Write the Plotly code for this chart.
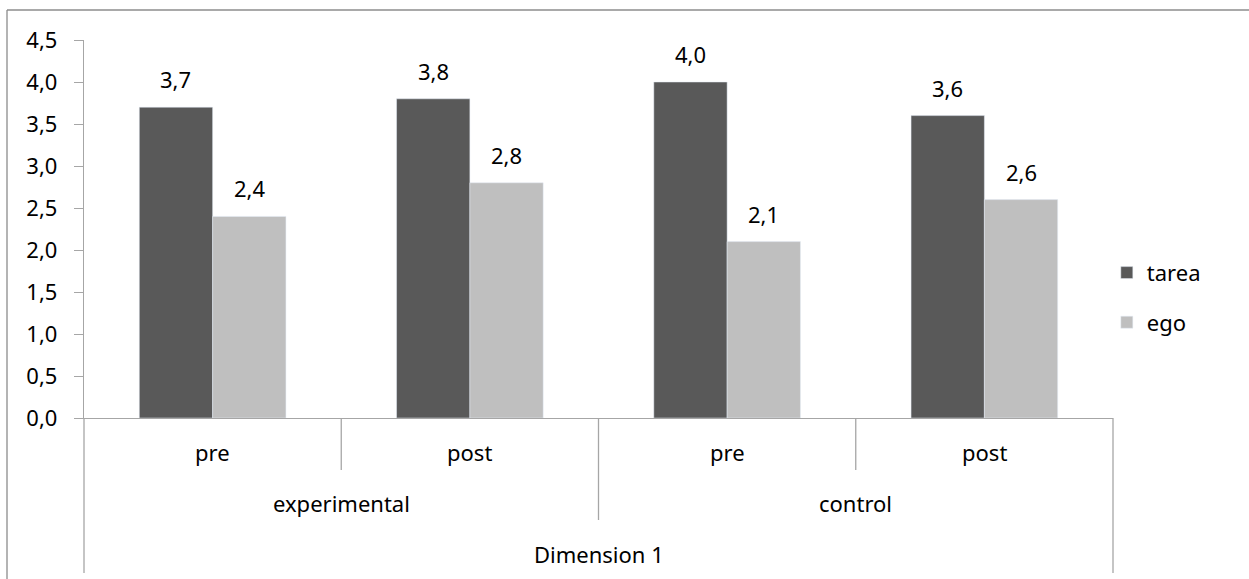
import plotly.graph_objects as go

# Category structure (three-level axis: condition / group / dimension)
conditions = ["pre", "post", "pre", "post"]
groups = ["experimental", "control"]
dimension = "Dimension 1"

tarea = [3.7, 3.8, 4.0, 3.6]
ego = [2.4, 2.8, 2.1, 2.6]

y_ticks = [0, 0.5, 1, 1.5, 2, 2.5, 3, 3.5, 4, 4.5]

FONT = "Noto Sans"
FS = 22
AXIS_GREY = "#a6a6a6"
FRAME_GREY = "#8c8c8c"
DARK = "#595959"
LIGHT = "#bfbfbf"

xpos = list(range(len(conditions)))

fig = go.Figure()
fig.add_trace(go.Bar(x=xpos, y=tarea, name="tarea", marker_color=DARK,
                     legendgroup="a"))
fig.add_trace(go.Bar(x=xpos, y=ego, name="ego", marker_color=LIGHT,
                     legendgroup="b"))

W, H = 1249, 579
ml, mr, mt, mb = 84, 136, 40, 161
plot_w = W - ml - mr
plot_h = H - mt - mb
n = len(conditions)
bargap = 0.43
bar_w = (1 - bargap) / 2  # width of one bar in category units


def ypaper(px_below):
    return -px_below / plot_h


shapes = []
ann = []
line_style = dict(color=AXIS_GREY, width=1.3)

# Category dividers below the x axis
for i in range(n + 1):
    xp = i / n
    if i == 0 or i == n:
        depth = 155
    elif i == n // 2:
        depth = 102
    else:
        depth = 52
    shapes.append(dict(type="line", xref="paper", yref="paper",
                       x0=xp, x1=xp, y0=0, y1=ypaper(depth), line=line_style))

# Outer chart frame (top and left edges)
top_p = (plot_h + mt - 10) / plot_h
left_p = (7 - ml) / plot_w
shapes.append(dict(type="line", xref="paper", yref="paper",
                   x0=left_p, x1=(W + 5 - ml) / plot_w, y0=top_p, y1=top_p,
                   line=dict(color=FRAME_GREY, width=1.3)))
shapes.append(dict(type="line", xref="paper", yref="paper",
                   x0=left_p, x1=left_p, y0=top_p, y1=ypaper(mb + 5),
                   line=dict(color=FRAME_GREY, width=1.3)))

lab_font = dict(family=FONT, size=FS, color="#000000")

# Value labels above each bar
for vals, off in ((tarea, -bar_w / 2), (ego, bar_w / 2)):
    for i, v in enumerate(vals):
        ann.append(dict(x=xpos[i] + off, y=v, xref="x", yref="y",
                        text=f"{v:.1f}".replace(".", ","), showarrow=False,
                        yanchor="bottom", yshift=11, font=lab_font))

for i, c in enumerate(conditions):
    ann.append(dict(x=xpos[i], y=ypaper(34), xref="x", yref="paper",
                    yanchor="middle", text=c, showarrow=False, font=lab_font))
per = n // len(groups)
for g, name in enumerate(groups):
    xc = (xpos[g * per] + xpos[g * per + per - 1]) / 2
    ann.append(dict(x=xc, y=ypaper(85), xref="x", yref="paper",
                    yanchor="middle", text=name, showarrow=False, font=lab_font))
ann.append(dict(x=(xpos[0] + xpos[-1]) / 2, y=ypaper(136), xref="x", yref="paper",
                yanchor="middle", text=dimension, showarrow=False, font=lab_font))

fig.update_layout(
    width=W, height=H,
    margin=dict(l=ml, r=mr, t=mt, b=mb, pad=0),
    paper_bgcolor="white", plot_bgcolor="white",
    separators=",.",
    barmode="group", bargap=bargap, bargroupgap=0,
    font=dict(family=FONT, size=FS, color="#000000"),
    xaxis=dict(range=[-0.5, n - 0.5], showticklabels=False, showgrid=False,
               zeroline=False, showline=True, linecolor=AXIS_GREY, linewidth=1.3,
               ticks=""),
    yaxis=dict(range=[0, 4.5], tickvals=y_ticks, tickformat=".1f",
               showgrid=False, zeroline=False, showline=True,
               linecolor=AXIS_GREY, linewidth=1.3, ticks="outside",
               ticklen=9, tickcolor=AXIS_GREY, tickwidth=1.3,
               ticklabelstandoff=12,
               tickfont=dict(family=FONT, size=FS, color="#000000")),
    legend=dict(x=0.994, y=0.318, xanchor="left", yanchor="middle",
                font=dict(family=FONT, size=FS, color="#000000"),
                tracegroupgap=18, itemwidth=30, bgcolor="rgba(0,0,0,0)"),
    shapes=shapes, annotations=ann,
)

fig.write_html("out.html")
